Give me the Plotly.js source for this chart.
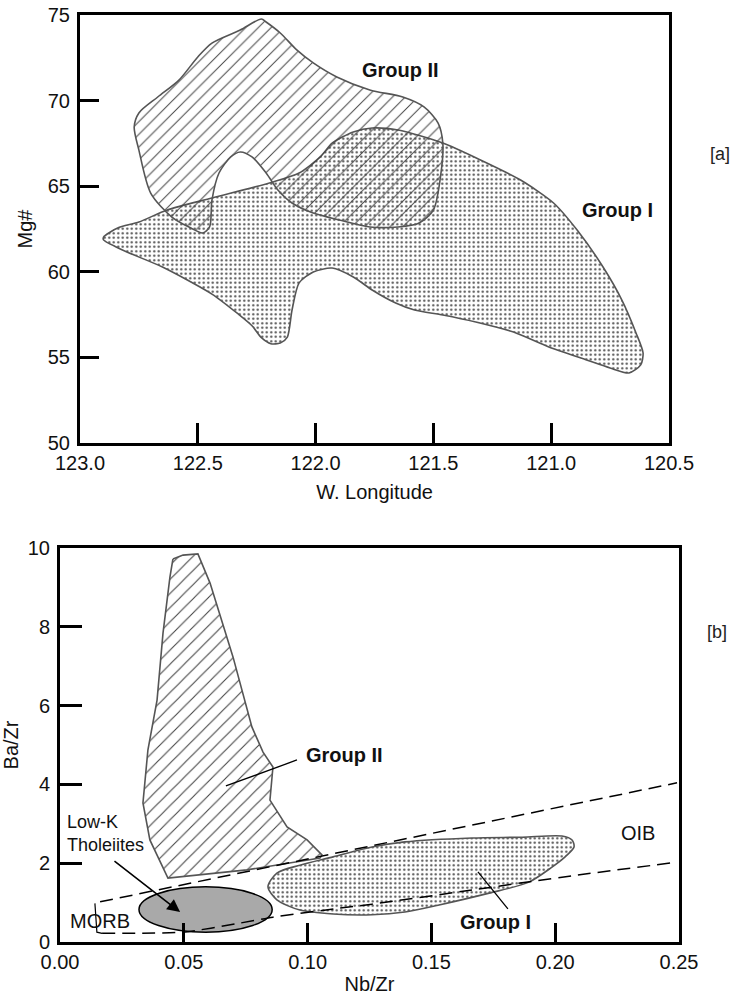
<!DOCTYPE html>
<html>
<head>
<meta charset="utf-8">
<script src="https://cdn.plot.ly/plotly-3.0.1.min.js"></script>
<style>
  html, body { margin: 0; padding: 0; background: #fff; }
  #chart { width: 744px; height: 995px; }
</style>
</head>
<body>
<div id="chart"></div>
<script>
// ---- Panel [a]: Mg# against W. Longitude ----
const groupII_a_lon = [122.23, 122.32, 122.44, 122.50, 122.58, 122.67, 122.75, 122.77, 122.75, 122.70,
                       122.61, 122.53, 122.48, 122.45, 122.44, 122.41, 122.36, 122.32, 122.27, 122.21,
                       122.16, 122.10, 122.01, 121.90, 121.77, 121.65, 121.56, 121.50, 121.47, 121.46,
                       121.48, 121.54, 121.63, 121.77, 121.91, 122.01, 122.08, 122.15, 122.21, 122.23];
const groupII_a_mg  = [74.77, 74.12, 73.36, 72.55, 71.20, 70.21, 69.28, 68.46, 67.11, 64.60,
                       63.20, 62.56, 62.27, 62.62, 64.19, 65.77, 66.71, 67.00, 66.71, 65.77,
                       64.78, 64.02, 63.43, 63.03, 62.62, 62.62, 62.85, 63.61, 65.54, 67.52,
                       68.69, 69.63, 70.21, 70.62, 71.38, 72.20, 72.96, 73.95, 74.59, 74.77];

const groupI_a_lon = [122.90, 122.84, 122.75, 122.63, 122.44, 122.18, 122.07, 121.98, 121.93, 121.84,
                      121.76, 121.65, 121.46, 121.30, 121.13, 120.99, 120.89, 120.78, 120.70, 120.64,
                      120.61, 120.62, 120.67, 120.75, 120.85, 121.01, 121.16, 121.32, 121.46, 121.58,
                      121.66, 121.76, 121.84, 121.93, 122.01, 122.07, 122.10, 122.12, 122.15, 122.19,
                      122.23, 122.27, 122.33, 122.44, 122.65, 122.82, 122.90, 122.90];
const groupI_a_mg  = [62.03, 62.56, 62.91, 63.61, 64.31, 65.25, 65.77, 66.71, 67.52, 68.17,
                      68.40, 68.28, 67.52, 66.53, 65.36, 64.02, 62.44, 60.28, 58.35, 56.43,
                      55.26, 54.56, 54.09, 54.38, 54.85, 55.61, 56.48, 57.07, 57.48, 57.77,
                      58.18, 58.94, 59.70, 60.22, 59.99, 59.35, 57.77, 56.19, 55.84, 55.80,
                      56.15, 56.85, 57.55, 58.70, 60.28, 61.27, 61.86, 62.03];

const lonTicks = [123.0, 122.5, 122.0, 121.5, 121.0, 120.5];
const mgTicks  = [50, 55, 60, 65, 70, 75];

// ---- Panel [b]: Ba/Zr against Nb/Zr ----
const groupII_b_nb = [0.0456, 0.0497, 0.0557, 0.0606, 0.0699, 0.0775, 0.0820, 0.0860, 0.0848, 0.0917,
                      0.0998, 0.1058, 0.1050, 0.0755, 0.0436, 0.0363, 0.0335, 0.0355, 0.0392, 0.0416,
                      0.0444, 0.0456];
const groupII_b_ba = [9.72, 9.82, 9.85, 9.11, 7.23, 5.46, 4.82, 4.44, 3.60, 2.92,
                      2.59, 2.21, 2.13, 1.83, 1.62, 2.59, 3.53, 4.87, 6.14, 7.84,
                      9.26, 9.72];

const groupI_b_nb = [0.0840, 0.0876, 0.0969, 0.1103, 0.1260, 0.1393, 0.1664, 0.1866, 0.2027, 0.2068,
                     0.2076, 0.2040, 0.1987, 0.1894, 0.1733, 0.1531, 0.1393, 0.1260, 0.1103, 0.0969,
                     0.0876, 0.0840];
const groupI_b_ba = [1.40, 1.75, 1.95, 2.16, 2.41, 2.54, 2.64, 2.66, 2.69, 2.59,
                     2.41, 2.16, 1.90, 1.52, 1.24, 0.94, 0.76, 0.69, 0.71, 0.81,
                     1.07, 1.40];

// MORB / OIB array boundaries
const upperArray_nb = [0.0162, 0.2492];
const upperArray_ba = [1.02, 4.04];
const lowerArray_nb = [0.0170, 0.0497, 0.0727, 0.0860, 0.1131, 0.1260, 0.1664, 0.2068, 0.2472];
const lowerArray_ba = [0.22, 0.25, 0.48, 0.63, 0.86, 0.96, 1.32, 1.68, 2.01];
const morbEdge_nb = [0.0141, 0.0149, 0.0170];
const morbEdge_ba = [0.98, 0.25, 0.22];

// Low-K tholeiite field (ellipse bounds)
const tholeiite_nb = [0.0319, 0.0857];
const tholeiite_ba = [0.25, 1.40];

// Label leader lines
const leaderII_nb = [0.0670, 0.0957];
const leaderII_ba = [3.96, 4.62];
const leaderI_nb  = [0.1688, 0.1809];
const leaderI_ba  = [1.78, 0.84];

// Arrow from the Low-K Tholeiites label: [tail, head]
const tholArrow_nb = [0.0214, 0.0485];
const tholArrow_ba = [2.08, 0.76];

const nbTicks = [0.00, 0.05, 0.10, 0.15, 0.20, 0.25];
const baTicks = [0, 2, 4, 6, 8, 10];

// ---- styling ----
const FONT = 'Liberation Sans, Arial, Helvetica, sans-serif';
const OUTLINE = '#555555';
const hatch = (size) => ({ shape: '/', size: size, solidity: 0.11, fgcolor: '#444444', bgcolor: 'rgba(0,0,0,0)', fgopacity: 1 });
const dots  = { shape: '.', size: 4.5, solidity: 0.2, fgcolor: '#4a4a4a', bgcolor: 'rgba(0,0,0,0)', fgopacity: 1 };

const traces = [
  { x: groupI_a_lon, y: groupI_a_mg, xaxis: 'x', yaxis: 'y', mode: 'lines', fill: 'toself',
    fillcolor: 'rgba(0,0,0,0)', fillpattern: dots,
    line: { color: OUTLINE, width: 1.6, shape: 'spline', smoothing: 0.7 }, hoverinfo: 'skip', showlegend: false },
  { x: groupII_a_lon, y: groupII_a_mg, xaxis: 'x', yaxis: 'y', mode: 'lines', fill: 'toself',
    fillcolor: 'rgba(0,0,0,0)', fillpattern: hatch(9),
    line: { color: OUTLINE, width: 1.6, shape: 'spline', smoothing: 0.8 }, hoverinfo: 'skip', showlegend: false },

  { x: groupII_b_nb, y: groupII_b_ba, xaxis: 'x2', yaxis: 'y2', mode: 'lines', fill: 'toself',
    fillcolor: 'rgba(0,0,0,0)', fillpattern: hatch(10),
    line: { color: OUTLINE, width: 1.6 }, hoverinfo: 'skip', showlegend: false },
  { x: groupI_b_nb, y: groupI_b_ba, xaxis: 'x2', yaxis: 'y2', mode: 'lines', fill: 'toself',
    fillcolor: 'rgba(0,0,0,0)', fillpattern: dots,
    line: { color: OUTLINE, width: 1.6, shape: 'spline', smoothing: 0.8 }, hoverinfo: 'skip', showlegend: false },

  { x: upperArray_nb, y: upperArray_ba, xaxis: 'x2', yaxis: 'y2', mode: 'lines',
    line: { color: '#000', width: 1.5, dash: '13px,7px' }, hoverinfo: 'skip', showlegend: false },
  { x: lowerArray_nb, y: lowerArray_ba, xaxis: 'x2', yaxis: 'y2', mode: 'lines',
    line: { color: '#000', width: 1.5, dash: '13px,7px', shape: 'spline', smoothing: 0.6 }, hoverinfo: 'skip', showlegend: false },
  { x: morbEdge_nb, y: morbEdge_ba, xaxis: 'x2', yaxis: 'y2', mode: 'lines',
    line: { color: '#000', width: 1.2 }, hoverinfo: 'skip', showlegend: false },

  { x: leaderII_nb, y: leaderII_ba, xaxis: 'x2', yaxis: 'y2', mode: 'lines',
    line: { color: '#000', width: 1.3 }, hoverinfo: 'skip', showlegend: false },
  { x: leaderI_nb, y: leaderI_ba, xaxis: 'x2', yaxis: 'y2', mode: 'lines',
    line: { color: '#000', width: 1.3 }, hoverinfo: 'skip', showlegend: false }
];

const axisBase = {
  showline: true, linewidth: 3, linecolor: '#000', mirror: true,
  ticks: 'inside', tickwidth: 3, tickcolor: '#000', ticklen: 20,
  showgrid: false, zeroline: false, fixedrange: true,
  tickfont: { family: FONT, size: 20, color: '#111' },
  title: { font: { family: FONT, size: 20, color: '#111' } }
};

const layout = {
  width: 744, height: 995,
  margin: { l: 0, r: 0, t: 0, b: 0 },
  paper_bgcolor: '#fff', plot_bgcolor: 'rgba(0,0,0,0)',
  font: { family: FONT, color: '#111' },
  xaxis: Object.assign({}, axisBase, {
    domain: [80 / 744, 669 / 744], anchor: 'y', range: [123.0, 120.5],
    tickvals: lonTicks, ticktext: lonTicks.map(v => v.toFixed(1)),
    title: { text: 'W. Longitude', font: axisBase.title.font, standoff: 12 }
  }),
  yaxis: Object.assign({}, axisBase, {
    domain: [1 - 443 / 995, 1 - 15 / 995], anchor: 'x', range: [50, 75],
    tickvals: mgTicks, ticklen: 19, ticklabelstandoff: 3,
    title: { text: 'Mg#', font: axisBase.title.font, standoff: 10 }
  }),
  xaxis2: Object.assign({}, axisBase, {
    domain: [60 / 744, 679 / 744], anchor: 'y2', range: [0, 0.25],
    tickvals: nbTicks, ticktext: nbTicks.map(v => v.toFixed(2)), ticklen: 19,
    title: { text: 'Nb/Zr', font: axisBase.title.font, standoff: 6 }
  }),
  yaxis2: Object.assign({}, axisBase, {
    domain: [1 - 942 / 995, 1 - 548 / 995], anchor: 'x2', range: [0, 10],
    tickvals: baTicks, ticklen: 22, ticklabelstandoff: 3,
    title: { text: 'Ba/Zr', font: axisBase.title.font, standoff: 10 }
  }),
  shapes: [
    { type: 'circle', xref: 'x2', yref: 'y2', layer: 'below',
      x0: tholeiite_nb[0], x1: tholeiite_nb[1], y0: tholeiite_ba[0], y1: tholeiite_ba[1],
      fillcolor: '#a9a9a9', line: { color: '#000', width: 1.5 } }
  ],
  annotations: [
    { xref: 'x', yref: 'y', x: 121.64, y: 71.79, text: '<b>Group II</b>', showarrow: false,
      font: { family: FONT, size: 20, color: '#111' } },
    { xref: 'x', yref: 'y', x: 120.72, y: 63.61, text: '<b>Group I</b>', showarrow: false,
      font: { family: FONT, size: 20, color: '#111' } },
    { xref: 'paper', yref: 'paper', x: 732 / 744, y: 1 - 142 / 995, text: '[a]', showarrow: false,
      font: { family: FONT, size: 18, color: '#222' } },
    { xref: 'paper', yref: 'paper', x: 729 / 744, y: 1 - 632 / 995, text: '[b]', showarrow: false,
      font: { family: FONT, size: 18, color: '#222' } },

    { xref: 'x2', yref: 'y2', x: 0.1151, y: 4.75, text: '<b>Group II</b>', showarrow: false,
      font: { family: FONT, size: 20, color: '#111' } },
    { xref: 'x2', yref: 'y2', x: 0.1757, y: 0.51, text: '<b>Group I</b>', showarrow: false,
      font: { family: FONT, size: 20, color: '#111' } },
    { xref: 'x2', yref: 'y2', x: 0.0162, y: 0.53, text: 'MORB', showarrow: false,
      font: { family: FONT, size: 20, color: '#111' } },
    { xref: 'x2', yref: 'y2', x: 0.2334, y: 2.77, text: 'OIB', showarrow: false,
      font: { family: FONT, size: 20, color: '#111' } },
    { xref: 'x2', yref: 'y2', x: 0.0020, y: 2.75, xanchor: 'left', align: 'left',
      text: 'Low-K<br>Tholeiites', showarrow: false,
      font: { family: FONT, size: 18, color: '#111' } },
    { xref: 'x2', yref: 'y2', axref: 'x2', ayref: 'y2',
      x: tholArrow_nb[1], y: tholArrow_ba[1], ax: tholArrow_nb[0], ay: tholArrow_ba[0],
      text: '', showarrow: true, arrowhead: 2, arrowsize: 1.6, arrowwidth: 1.6, arrowcolor: '#000' }
  ]
};

Plotly.newPlot('chart', traces, layout, { staticPlot: true, displayModeBar: false });
</script>
</body>
</html>
